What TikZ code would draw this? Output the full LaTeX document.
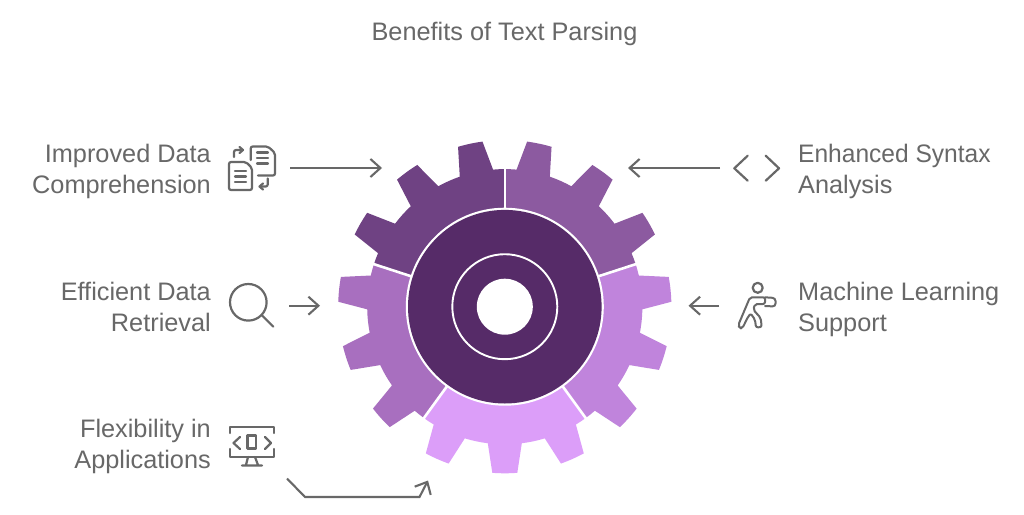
\documentclass[tikz,border=0pt]{standalone}
\usepackage{fontspec}
\setmainfont{Liberation Sans}
\usetikzlibrary{arrows.meta}
\definecolor{ink}{HTML}{686868}
\definecolor{hubc}{HTML}{562B68}
\definecolor{segA}{HTML}{8C5AA0}
\definecolor{segB}{HTML}{6F4283}
\definecolor{segC}{HTML}{A86FBF}
\definecolor{segD}{HTML}{DC9EF9}
\definecolor{segE}{HTML}{C084DC}
\newcommand\gearseg[2]{%
  \fill[#2] (#1:90) -- (#1:137.6)
    arc[start angle=#1,end angle=#1+4.9,radius=137.6]
    -- ({#1+7.7}:166.6) arc[start angle=#1+7.7,end angle=#1+16.3,radius=166.6]
    -- ({#1+19.1}:137.6) arc[start angle=#1+19.1,end angle=#1+28.9,radius=137.6]
    -- ({#1+31.7}:166.6) arc[start angle=#1+31.7,end angle=#1+40.3,radius=166.6]
    -- ({#1+43.1}:137.6) arc[start angle=#1+43.1,end angle=#1+52.9,radius=137.6]
    -- ({#1+55.7}:166.6) arc[start angle=#1+55.7,end angle=#1+64.3,radius=166.6]
    -- ({#1+67.1}:137.6) arc[start angle=#1+67.1,end angle=#1+72,radius=137.6]
    -- ({#1+72}:90) -- cycle;}
\tikzset{
  x=1pt,y=1pt,
  lbl/.style={text=ink,font=\fontsize{25.3}{31}\selectfont,inner sep=0pt,align=#1},
  lbl/.default=left,
  conn/.style={draw=ink,line width=2.1pt,-{Straight Barb[length=10pt,width=18pt,line width=2.1pt]}},
  icon/.style={draw=ink,line width=2.2pt,line cap=round,line join=round,fill=none},
  sep/.style={draw=white,line width=2.6pt}
}
\begin{document}
\begin{tikzpicture}
\useasboundingbox (0,0) rectangle (1024,-514);
\fill[white] (0,0) rectangle (1024,-514);
% gear
\begin{scope}[shift={(504.8,-306.7)}]
  \gearseg{18}{segA}
  \gearseg{90}{segB}
  \gearseg{162}{segC}
  \gearseg{234}{segD}
  \gearseg{306}{segE}
  \foreach \a in {18,90,162,234,306}{\draw[sep] (\a:95) -- (\a:139);}
  \fill[white] (0,0) circle (99);
  \fill[hubc] (0,0) circle (96.8);
  \draw[white,line width=1.9pt] (0,0) circle (52.5);
  \fill[white] (0,0) circle (28);
\end{scope}
% title
\node[lbl=center] (title) at (504.5,-33.5) {Benefits of Text Parsing};
% labels
\node[lbl=right,anchor=east] (imp) at (211,-171) {Improved Data\\Comprehension};
\node[lbl=right,anchor=east] (eff) at (211,-306.5) {Efficient Data\\Retrieval};
\node[lbl=right,anchor=east] (flx) at (211,-446.5) {Flexibility in\\Applications};
\node[lbl=left,anchor=west] (enh) at (798,-171) {\scalebox{0.97}[1]{Enhanced Syntax}\\Analysis};
\node[lbl=left,anchor=west] (mac) at (798,-309) {Machine Learning\\Support};
% connector end points
\coordinate (a1s) at (290,-168); \coordinate (a1e) at (382,-168);
\coordinate (a2s) at (720,-168); \coordinate (a2e) at (628,-168);
\coordinate (a3s) at (289,-305.7); \coordinate (a3e) at (320,-305.7);
\coordinate (a4s) at (719,-305.7); \coordinate (a4e) at (688.5,-305.7);
\coordinate (a5s) at (287,-478.5); \coordinate (a5e) at (428,-480.5);
\draw[conn] (a1s) -- (a1e);
\draw[conn] (a2s) -- (a2e);
\draw[conn] (a3s) -- (a3e);
\draw[conn] (a4s) -- (a4e);
\draw[conn] (a5s) -- (305,-497) -- (419.5,-497) -- (a5e);
% icon: code brackets
\draw[icon] (747.7,-155.7) -- (734.3,-168.3) -- (747.7,-180.7);
\draw[icon] (765.7,-155.7) -- (779,-168.3) -- (765.7,-180.7);
% icon: magnifier
\draw[icon] (248.3,-302.3) circle (18.3);
\draw[icon] (261.7,-315) -- (273.3,-326.7);
% icon: monitor
\draw[icon] (230,-433) -- (230,-426.7) -- (274,-426.7) -- (274,-433);
\draw[icon] (230,-449) -- (230,-456.7) -- (274,-456.7) -- (274,-449);
\draw[icon] (240,-437) -- (233.5,-443) -- (240,-449);
\draw[icon] (265,-437) -- (271,-443) -- (265,-449);
\draw[icon] (247.5,-435.5) rectangle (256,-448.5);
\draw[icon] (248,-457) -- (246,-465) (255,-457) -- (258,-465) (242,-465.5) -- (262,-465.5);
% icon: documents
\draw[icon,rounded corners=2pt] (252,-168) -- (252,-190) -- (229,-190) -- (229,-162) -- (246,-162) -- cycle;
\draw[icon,rounded corners=2pt] (250.7,-160) -- (250.7,-146.5) -- (268,-146.5) -- (275,-153) -- (275,-175.5) -- (258,-175.5);
\draw[icon] (235,-171) -- (246,-171) (235,-176.5) -- (246,-176.5) (235,-182) -- (246,-182);
\draw[icon] (257,-152.5) -- (268,-152.5) (257,-158) -- (268,-158) (257,-163.5) -- (268,-163.5);
\draw[icon,rounded corners=2pt] (234,-157) -- (234,-150) -- (242,-150);
\draw[icon] (239.5,-147) -- (243,-150) -- (239.5,-153);
\draw[icon,rounded corners=2pt] (267.7,-178.5) -- (267.7,-186.5) -- (260,-186.5);
\draw[icon] (263,-183.5) -- (259.5,-186.5) -- (263,-189.5);
% icon: person
\draw[icon] (757.7,-287.8) circle (5);
\draw[icon,line width=2pt,rounded corners=2pt] (750,-297.3) -- (738.3,-325) -- (739.5,-328.5) -- (742.5,-328) -- (748.3,-316.3) -- (750.7,-313.5) -- (755,-319.7) -- (756,-327.5) -- (761.7,-327) -- (760.7,-318) -- (753.3,-309.7) -- (755,-304) -- (765,-304) -- (765,-297.3) -- cycle;
\draw[icon,line width=2pt,rounded corners=3pt] (765,-297.3) -- (775.5,-298) -- (775.5,-306.5) -- (765,-306);
\end{tikzpicture}
\end{document}
